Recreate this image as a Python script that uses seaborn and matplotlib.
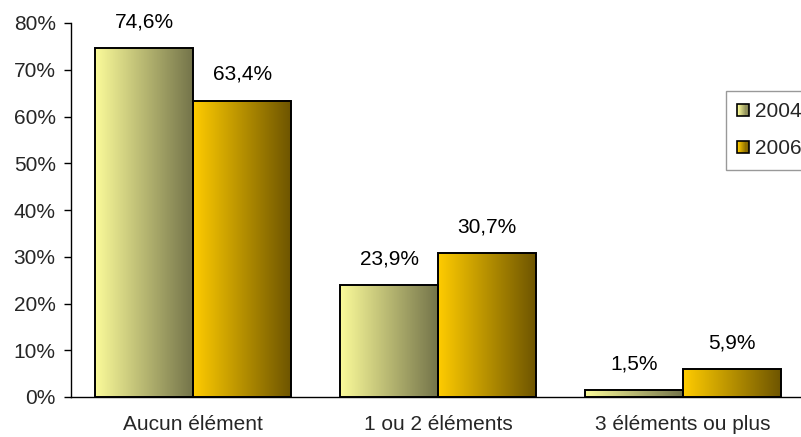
import numpy as np
import pandas as pd
import matplotlib
matplotlib.use("Agg")
import matplotlib.pyplot as plt
import seaborn as sns
from matplotlib.patches import Rectangle
from matplotlib.legend_handler import HandlerBase
from matplotlib.colors import LinearSegmentedColormap

categories = ["Aucun élément", "1 ou 2 éléments", "3 éléments ou plus"]
years = ["2004", "2006"]
values_2004 = [74.6, 23.9, 1.5]
values_2006 = [63.4, 30.7, 5.9]
y_ticks = [0, 10, 20, 30, 40, 50, 60, 70, 80]

# horizontal gradient for each series: light on the left, dark on the right
gradients = {
    "2004": ("#FBFB9A", "#74744A"),
    "2006": ("#FFCC00", "#6E5500"),
}

FS = 15

df = pd.DataFrame({
    "categorie": categories * 2,
    "annee": [years[0]] * 3 + [years[1]] * 3,
    "valeur": values_2004 + values_2006,
})

sns.set_theme(style="white")
plt.rcParams["font.family"] = ["Liberation Sans", "DejaVu Sans"]

fig = plt.figure(figsize=(8.01, 4.37), dpi=100)
ax = fig.add_axes([71 / 801, 1 - 397 / 437, 734.5 / 801, 374 / 437])

sns.barplot(data=df, x="categorie", y="valeur", hue="annee", order=categories,
            hue_order=years, width=0.8, ax=ax, legend=False,
            palette=[gradients[y][0] for y in years])

ramp = np.linspace(0, 1, 256).reshape(1, -1)
for year, container in zip(years, ax.containers):
    cmap = LinearSegmentedColormap.from_list(year, gradients[year])
    for bar in container:
        x0, w, h = bar.get_x(), bar.get_width(), bar.get_height()
        ax.imshow(ramp, cmap=cmap, extent=[x0, x0 + w, 0, h], aspect="auto",
                  interpolation="bicubic", zorder=2)
        bar.set_facecolor("none")
        bar.set_edgecolor("black")
        bar.set_linewidth(1.4)
        bar.set_zorder(3)
        label = f"{h:.1f}%".replace(".", ",")
        ax.annotate(label, (x0 + w / 2, h), xytext=(0, 19),
                    textcoords="offset points", ha="center", va="center",
                    fontsize=FS, color="black")

ax.set_xlim(-0.5, 2.5)
ax.set_ylim(0, 80)
ax.set_yticks(y_ticks)
ax.set_yticklabels([f"{t}%" for t in y_ticks])
ax.set_xlabel("")
ax.set_ylabel("")
ax.tick_params(axis="y", length=5, width=1, color="black", pad=6,
               labelsize=FS, direction="out", left=True)
ax.tick_params(axis="x", length=0, pad=13, labelsize=FS)
for s in ["top", "right"]:
    ax.spines[s].set_visible(False)
for s in ["left", "bottom"]:
    ax.spines[s].set_color("black")
    ax.spines[s].set_linewidth(1)


class HandlerGradient(HandlerBase):
    def __init__(self, colors):
        super().__init__()
        self.colors = colors

    def create_artists(self, legend, orig_handle, xdescent, ydescent,
                       width, height, fontsize, trans):
        side = min(width, height)
        x0 = -xdescent + (width - side) / 2
        y0 = -ydescent + (height - side) / 2
        cmap = LinearSegmentedColormap.from_list("g", self.colors)
        n = 10
        arts = []
        for i in range(n):
            r = Rectangle((x0 + side * i / n, y0), side / n, side,
                          facecolor=cmap((i + 0.5) / n), edgecolor="none",
                          transform=trans)
            arts.append(r)
        arts.append(Rectangle((x0, y0), side, side, facecolor="none",
                              edgecolor="black", linewidth=1.2, transform=trans))
        return arts


handles = [Rectangle((0, 0), 1, 1) for _ in years]
leg = ax.legend(handles, years,
                handler_map={h: HandlerGradient(gradients[y]) for h, y in zip(handles, years)},
                loc="upper left", bbox_to_anchor=(726 / 801, 1 - 91 / 437),
                bbox_transform=fig.transFigure, fontsize=FS, frameon=True,
                fancybox=False, edgecolor="#808080", borderpad=0.55,
                labelspacing=0.85, handlelength=0.55, handletextpad=0.3,
                borderaxespad=0)
leg.get_frame().set_linewidth(1)

fig.savefig("out.png", dpi=100)
